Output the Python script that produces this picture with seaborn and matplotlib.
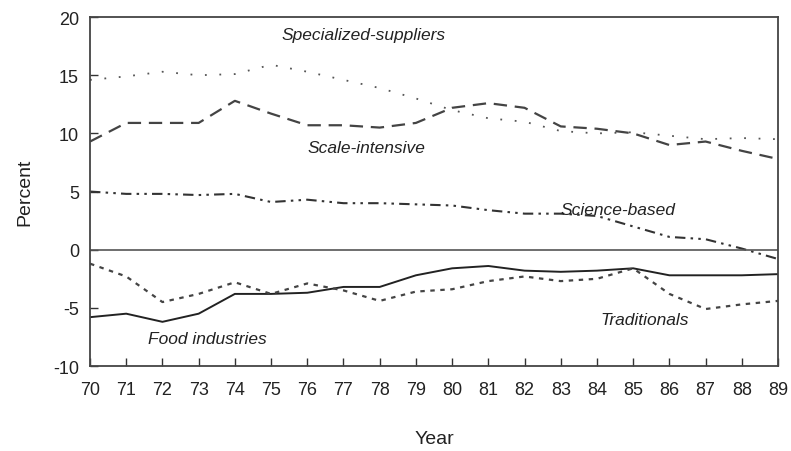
import matplotlib
matplotlib.use("Agg")
import matplotlib.pyplot as plt
import seaborn as sns
import pandas as pd

years = list(range(1970, 1990))
year_labels = [str(y)[2:] for y in years]

specialized_suppliers = [14.6, 14.9, 15.3, 15.0, 15.1, 15.9, 15.3, 14.6, 13.9, 13.0,
                         12.0, 11.3, 11.0, 10.2, 10.0, 10.1, 9.8, 9.5, 9.6, 9.5]
scale_intensive = [9.3, 10.9, 10.9, 10.9, 12.8, 11.7, 10.7, 10.7, 10.5, 10.9,
                   12.2, 12.6, 12.2, 10.6, 10.4, 10.0, 9.0, 9.3, 8.5, 7.8]
science_based = [5.0, 4.8, 4.8, 4.7, 4.8, 4.1, 4.3, 4.0, 4.0, 3.9,
                 3.8, 3.4, 3.1, 3.1, 2.9, 2.0, 1.1, 0.9, 0.1, -0.8]
food_industries = [-5.8, -5.5, -6.2, -5.5, -3.8, -3.8, -3.7, -3.2, -3.2, -2.2,
                   -1.6, -1.4, -1.8, -1.9, -1.8, -1.6, -2.2, -2.2, -2.2, -2.1]
traditionals = [-1.2, -2.3, -4.5, -3.8, -2.8, -3.8, -2.9, -3.5, -4.4, -3.6,
                -3.4, -2.7, -2.3, -2.7, -2.5, -1.6, -3.8, -5.1, -4.7, -4.4]

sns.set_theme(style="white")
plt.rcParams["font.family"] = ["Liberation Sans", "DejaVu Sans"]
plt.rcParams["axes.unicode_minus"] = False

fig = plt.figure(figsize=(7.91, 4.52), dpi=100)
ax = fig.add_axes([0.1138, 0.188, 0.8698, 0.772])

series = [
    (specialized_suppliers, (0, (1, 7)), 1.3, "#555555"),
    (scale_intensive, (0, (6, 3.5)), 1.6, "#444444"),
    (science_based, (0, (5, 2.5, 1.2, 2.5, 1.2, 2.5)), 1.5, "#333333"),
    (food_industries, "-", 1.4, "#222222"),
    (traditionals, (0, (2, 2.5)), 1.6, "#444444"),
]
for vals, ls, lw, col in series:
    df = pd.DataFrame({"year": years, "value": vals})
    sns.lineplot(data=df, x="year", y="value", ax=ax, color=col,
                 linestyle=ls, linewidth=lw)

ax.axhline(0, color="#555555", linewidth=1.2)

ax.set_xlim(1970, 1989)
ax.set_ylim(-10, 20)
ax.set_xticks(years)
ax.set_xticklabels(year_labels)
ax.set_yticks([-10, -5, 0, 5, 10, 15, 20])
ax.tick_params(axis="both", direction="in", length=6, width=1, colors="#333333",
               labelsize=13, labelcolor="#222222")
ax.tick_params(axis="x", pad=11)
ax.tick_params(axis="y", pad=8)
ax.tick_params(top=False, right=False, bottom=True, left=True)
for s in ax.spines.values():
    s.set_color("#444444")
    s.set_linewidth(1.3)

ax.set_xlabel("Year", fontsize=14, color="#222222", labelpad=23)
ax.set_ylabel("Percent", fontsize=14, color="#222222", labelpad=14)

label_kw = dict(fontsize=12.5, style="italic", color="#222222")
ax.text(1975.3, 18.1, "Specialized-suppliers", **label_kw)
ax.text(1976.0, 8.4, "Scale-intensive", **label_kw)
ax.text(1983.0, 3.1, "Science-based", **label_kw)
ax.text(1971.6, -8.0, "Food industries", **label_kw)
ax.text(1984.1, -6.35, "Traditionals", **label_kw)

fig.savefig("out.png", dpi=100, facecolor="white")
